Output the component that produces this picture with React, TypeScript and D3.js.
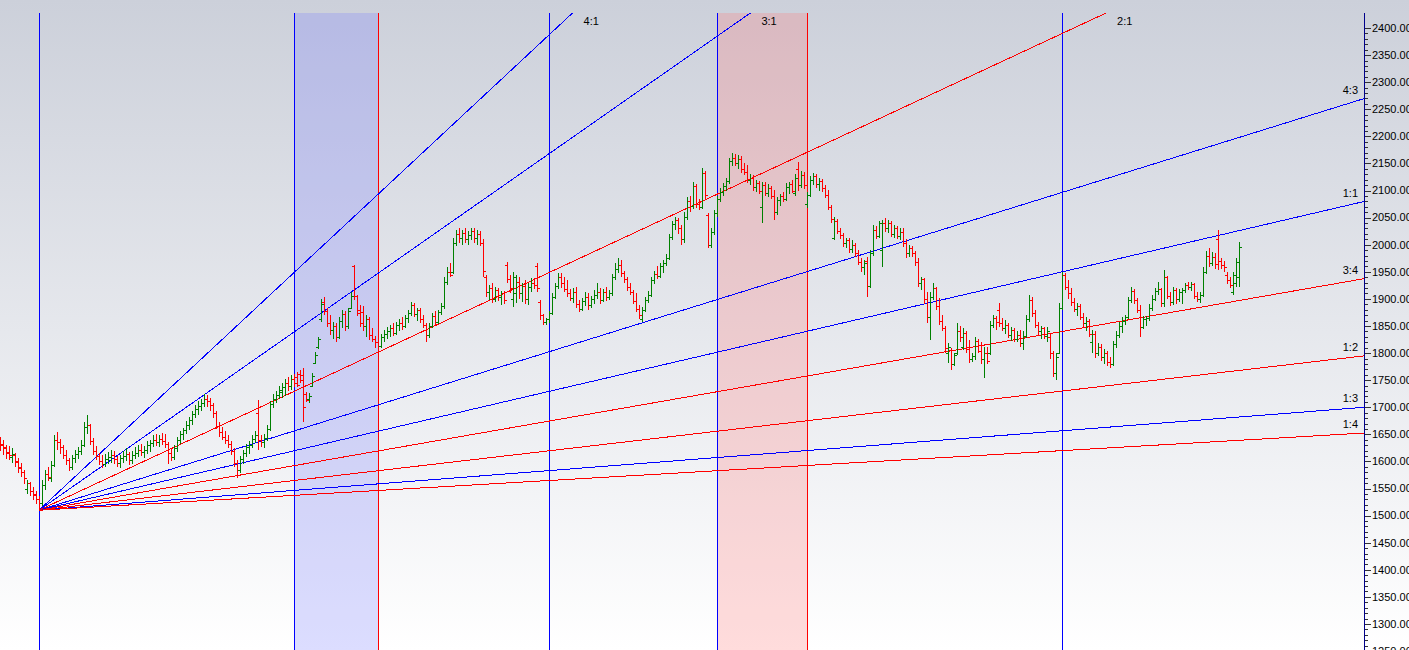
import * as d3 from "d3";

const W = 1409;
const H = 650;
const plotTop = 13;
const axisX = 1364;

// daily bars, [open, high, low, close]
const barsLead = [
  [1640, 1646, 1620, 1630], [1632, 1640, 1612, 1625], [1626, 1630, 1604, 1617], [1616, 1628, 1602, 1612],
  [1608, 1624, 1598, 1614], [1612, 1616, 1590, 1599], [1600, 1606, 1578, 1588], [1590, 1598, 1572, 1580],
  [1580, 1584, 1558, 1569], [1550, 1566, 1540, 1560], [1560, 1562, 1536, 1546], [1546, 1552, 1528, 1540],
  [1538, 1545, 1522, 1530], [1530, 1536, 1510, 1524],
];

const barsBase = [
  [1524, 1566, 1518, 1556], [1556, 1584, 1548, 1576], [1576, 1590, 1564, 1572], [1570, 1600, 1562, 1594],
  [1594, 1648, 1590, 1640], [1640, 1655, 1622, 1636], [1636, 1642, 1614, 1626], [1626, 1630, 1604, 1612],
  [1612, 1622, 1594, 1602], [1602, 1606, 1582, 1590], [1590, 1612, 1584, 1606], [1606, 1622, 1598, 1614],
  [1614, 1626, 1604, 1620], [1620, 1640, 1612, 1630], [1630, 1672, 1626, 1664], [1664, 1686, 1650, 1668],
  [1668, 1670, 1630, 1638], [1638, 1644, 1612, 1620], [1620, 1628, 1602, 1610], [1610, 1616, 1594, 1600],
  [1600, 1612, 1588, 1596], [1596, 1614, 1590, 1604], [1604, 1618, 1596, 1608], [1608, 1622, 1598, 1612],
  [1612, 1620, 1596, 1604], [1604, 1610, 1590, 1598], [1598, 1612, 1588, 1606], [1606, 1620, 1598, 1610],
  [1610, 1624, 1600, 1614], [1614, 1618, 1594, 1602], [1602, 1620, 1596, 1612], [1612, 1626, 1604, 1616],
  [1616, 1630, 1608, 1622], [1622, 1632, 1610, 1618], [1618, 1628, 1606, 1622], [1622, 1638, 1614, 1630],
  [1630, 1640, 1618, 1634], [1634, 1648, 1626, 1640], [1640, 1650, 1628, 1636], [1636, 1648, 1626, 1642],
  [1642, 1652, 1630, 1638], [1638, 1650, 1624, 1632], [1632, 1636, 1596, 1616], [1616, 1624, 1600, 1608],
  [1608, 1630, 1602, 1624], [1624, 1646, 1618, 1640], [1640, 1656, 1632, 1650],
];

const barsBreakout = [
  [1650, 1662, 1640, 1658], [1658, 1674, 1650, 1668], [1668, 1682, 1658, 1676], [1676, 1694, 1668, 1688],
  [1688, 1704, 1680, 1696], [1696, 1712, 1686, 1702], [1702, 1716, 1694, 1708], [1708, 1724, 1700, 1716],
  [1716, 1722, 1700, 1712], [1712, 1718, 1694, 1704], [1704, 1708, 1680, 1690], [1690, 1694, 1660, 1666],
  [1666, 1672, 1646, 1654], [1654, 1664, 1640, 1646], [1646, 1656, 1632, 1640], [1640, 1648, 1624, 1632],
  [1632, 1638, 1612, 1620], [1620, 1624, 1590, 1598], [1598, 1602, 1569, 1584], [1584, 1610, 1578, 1604],
  [1604, 1622, 1596, 1616], [1616, 1632, 1608, 1626], [1626, 1638, 1614, 1630], [1630, 1648, 1624, 1642],
  [1642, 1656, 1634, 1648], [1690, 1713, 1621, 1640], [1640, 1648, 1626, 1636], [1636, 1650, 1624, 1644],
  [1644, 1668, 1638, 1660], [1660, 1712, 1656, 1706], [1706, 1724, 1698, 1716], [1716, 1730, 1708, 1722],
  [1722, 1740, 1716, 1732], [1728, 1745, 1718, 1738], [1738, 1752, 1720, 1744], [1744, 1756, 1730, 1740],
  [1740, 1760, 1732, 1752], [1752, 1762, 1738, 1745], [1755, 1765, 1737, 1742], [1762, 1769, 1745, 1750],
  [1760, 1772, 1673, 1700], [1724, 1728, 1710, 1714], [1716, 1726, 1708, 1720], [1740, 1763, 1737, 1758],
  [1782, 1802, 1780, 1796], [1812, 1830, 1808, 1826], [1862, 1900, 1858, 1890], [1895, 1903, 1870, 1878],
];

const barsPlateau = [
  [1878, 1884, 1848, 1856], [1856, 1870, 1834, 1842], [1842, 1858, 1826, 1850], [1850, 1856, 1820, 1830],
  [1830, 1866, 1826, 1860], [1860, 1880, 1846, 1872], [1872, 1878, 1840, 1850], [1850, 1884, 1844, 1878],
  [1884, 1913, 1882, 1906], [1960, 1963, 1898, 1905], [1905, 1907, 1868, 1874], [1880, 1889, 1848, 1856],
  [1876, 1886, 1840, 1850], [1850, 1870, 1830, 1862], [1862, 1866, 1824, 1834], [1834, 1846, 1820, 1826],
  [1826, 1832, 1810, 1820], [1820, 1830, 1809, 1814], [1814, 1836, 1810, 1830], [1830, 1842, 1820, 1836],
  [1836, 1848, 1826, 1840], [1840, 1852, 1830, 1846], [1846, 1856, 1832, 1838], [1838, 1858, 1834, 1852],
  [1852, 1862, 1840, 1856], [1856, 1866, 1842, 1850], [1850, 1870, 1846, 1864], [1864, 1880, 1856, 1874],
  [1874, 1894, 1868, 1888], [1888, 1892, 1866, 1872], [1872, 1884, 1860, 1880], [1880, 1884, 1856, 1862],
  [1862, 1870, 1846, 1852], [1852, 1856, 1820, 1834], [1834, 1856, 1828, 1850], [1850, 1874, 1846, 1868],
  [1868, 1878, 1852, 1858], [1858, 1880, 1854, 1876], [1876, 1892, 1870, 1886], [1886, 1940, 1882, 1932],
  [1932, 1958, 1926, 1950], [1950, 1966, 1940, 1944], [1950, 2012, 1946, 2004], [2004, 2027, 1998, 2020],
  [2020, 2030, 2004, 2012], [2012, 2028, 2000, 2022], [2022, 2030, 2004, 2010], [2010, 2026, 2000, 2018],
  [2018, 2031, 2008, 2026], [2026, 2030, 2004, 2012], [2012, 2028, 2000, 2020], [2020, 2026, 1998, 2004],
];

const barsRange = [
  [2004, 2010, 1940, 1952], [1940, 1944, 1903, 1912], [1912, 1926, 1898, 1920], [1920, 1929, 1892, 1900],
  [1900, 1922, 1894, 1916], [1916, 1920, 1896, 1904], [1904, 1914, 1889, 1910], [1910, 1914, 1890, 1898],
  [1962, 1968, 1929, 1936], [1936, 1944, 1910, 1920], [1900, 1950, 1885, 1940], [1910, 1944, 1892, 1932],
  [1932, 1940, 1900, 1910], [1910, 1930, 1895, 1924], [1924, 1935, 1890, 1900], [1900, 1930, 1888, 1922],
  [1922, 1938, 1912, 1930], [1930, 1938, 1918, 1926], [1960, 1966, 1912, 1920], [1894, 1898, 1861, 1870],
  [1870, 1872, 1852, 1858], [1858, 1865, 1852, 1862], [1862, 1878, 1856, 1874], [1874, 1911, 1870, 1904],
  [1904, 1930, 1900, 1924], [1924, 1948, 1918, 1940], [1940, 1948, 1920, 1930], [1930, 1940, 1912, 1918],
  [1918, 1935, 1904, 1910], [1910, 1918, 1896, 1902], [1902, 1920, 1892, 1912], [1912, 1922, 1884, 1890],
  [1890, 1898, 1876, 1882], [1882, 1902, 1878, 1896], [1896, 1912, 1886, 1904], [1904, 1910, 1880, 1888],
  [1888, 1906, 1884, 1900], [1900, 1916, 1890, 1908], [1908, 1929, 1900, 1912], [1912, 1920, 1890, 1898],
  [1898, 1918, 1894, 1912], [1912, 1922, 1896, 1904], [1904, 1916, 1898, 1910], [1910, 1946, 1906, 1940],
  [1940, 1966, 1934, 1956], [1956, 1976, 1948, 1962], [1962, 1972, 1940, 1948], [1948, 1952, 1930, 1936],
  [1936, 1940, 1914, 1922], [1922, 1930, 1907, 1912], [1912, 1916, 1890, 1896], [1896, 1911, 1876, 1882],
  [1882, 1888, 1862, 1870], [1862, 1885, 1857, 1880],
];

const barsTop = [
  [1880, 1904, 1876, 1898], [1898, 1914, 1892, 1908], [1908, 1940, 1904, 1934], [1934, 1952, 1928, 1946],
  [1946, 1960, 1936, 1942], [1942, 1966, 1938, 1960], [1960, 1972, 1948, 1966], [1966, 1982, 1960, 1976],
  [1976, 2020, 1972, 2014], [2014, 2044, 2008, 2038], [2038, 2051, 2028, 2046], [2046, 2050, 2020, 2030],
  [2030, 2036, 2000, 2010], [2010, 2060, 2004, 2052], [2052, 2088, 2046, 2080], [2080, 2090, 2060, 2072],
  [2072, 2116, 2066, 2108], [2108, 2112, 2068, 2076], [2076, 2084, 2064, 2070], [2070, 2142, 2066, 2132],
  [2132, 2136, 2084, 2092], [2055, 2058, 1994, 2000], [2000, 2030, 1994, 2024], [2024, 2064, 2018, 2058],
  [2058, 2090, 2052, 2084], [2084, 2104, 2078, 2098], [2098, 2114, 2090, 2108], [2108, 2124, 2100, 2118],
  [2118, 2160, 2112, 2154], [2154, 2169, 2146, 2160], [2160, 2167, 2146, 2150], [2150, 2166, 2140, 2158],
  [2158, 2164, 2132, 2140], [2140, 2150, 2128, 2134], [2134, 2147, 2114, 2120], [2120, 2130, 2110, 2124],
  [2124, 2128, 2100, 2106], [2106, 2120, 2097, 2114], [2114, 2118, 2094, 2100], [2070, 2116, 2040, 2110],
  [2110, 2116, 2090, 2096], [2096, 2112, 2088, 2104], [2104, 2108, 2084, 2090], [2090, 2101, 2046, 2060],
  [2060, 2088, 2055, 2082], [2082, 2094, 2072, 2090], [2090, 2098, 2078, 2084], [2084, 2114, 2080, 2106],
  [2106, 2116, 2094, 2112],
];

const barsSlide = [
  [2112, 2120, 2096, 2100], [2096, 2130, 2090, 2124], [2140, 2153, 2100, 2110], [2110, 2136, 2104, 2128],
  [2128, 2134, 2102, 2110], [2076, 2097, 2067, 2092], [2092, 2126, 2088, 2120], [2120, 2132, 2110, 2126],
  [2126, 2130, 2104, 2112], [2112, 2124, 2100, 2118], [2118, 2122, 2097, 2104], [2104, 2110, 2086, 2092],
  [2092, 2101, 2064, 2070], [2070, 2074, 2040, 2048], [2012, 2052, 2009, 2044], [2044, 2048, 2020, 2026],
  [2026, 2030, 2010, 2018], [2018, 2022, 1996, 2004], [2004, 2012, 1994, 2008], [2008, 2012, 1984, 1992],
  [1992, 2008, 1984, 2000], [2000, 2004, 1978, 1984], [1984, 1990, 1962, 1968], [1968, 1975, 1950, 1958],
  [1958, 1972, 1944, 1966], [1970, 1977, 1903, 1924], [1924, 1990, 1920, 1984], [1984, 2036, 1980, 2028],
  [2028, 2034, 2010, 2016], [2016, 2044, 2012, 2040], [1990, 2046, 1958, 2040], [2040, 2050, 2024, 2030],
  [2030, 2046, 2022, 2040], [2040, 2044, 2014, 2020], [2020, 2036, 2012, 2030], [2030, 2034, 2010, 2016],
  [2016, 2030, 2008, 2024], [2024, 2031, 1996, 2004], [2004, 2010, 1975, 1984], [1984, 2000, 1978, 1994],
  [1994, 1998, 1978, 1984], [1984, 1988, 1960, 1968], [1968, 1975, 1922, 1930], [1930, 1940, 1916, 1936],
  [1936, 1938, 1890, 1900], [1900, 1913, 1856, 1866], [1866, 1913, 1824, 1904], [1904, 1929, 1898, 1920],
  [1920, 1922, 1880, 1886], [1886, 1902, 1852, 1860],
];

const barsBasin = [
  [1860, 1870, 1840, 1846], [1846, 1850, 1800, 1810], [1800, 1818, 1782, 1812], [1806, 1810, 1769, 1780],
  [1780, 1800, 1776, 1796], [1800, 1856, 1796, 1840], [1840, 1850, 1820, 1830], [1812, 1846, 1806, 1838],
  [1838, 1840, 1800, 1808], [1808, 1824, 1782, 1790], [1790, 1800, 1784, 1794], [1794, 1830, 1788, 1822],
  [1822, 1826, 1800, 1804], [1804, 1820, 1780, 1790], [1790, 1812, 1754, 1800], [1800, 1812, 1780, 1786],
  [1800, 1860, 1796, 1852], [1852, 1870, 1846, 1864], [1864, 1868, 1843, 1858], [1880, 1892, 1848, 1856],
  [1856, 1864, 1840, 1846], [1846, 1861, 1836, 1852], [1852, 1856, 1828, 1834], [1834, 1848, 1822, 1842],
  [1842, 1846, 1820, 1826], [1826, 1840, 1820, 1834], [1834, 1843, 1812, 1818], [1818, 1840, 1806, 1832],
  [1832, 1870, 1828, 1862], [1862, 1907, 1858, 1898], [1898, 1903, 1866, 1874], [1874, 1880, 1846, 1852],
  [1852, 1858, 1833, 1840], [1840, 1850, 1826, 1846], [1846, 1848, 1826, 1832], [1832, 1848, 1820, 1840],
  [1830, 1836, 1790, 1800], [1800, 1804, 1756, 1764], [1764, 1800, 1750, 1792], [1800, 1892, 1798, 1884],
  [1884, 1950, 1880, 1944], [1944, 1948, 1916, 1922], [1922, 1935, 1900, 1910], [1910, 1920, 1886, 1894],
  [1894, 1902, 1876, 1882], [1882, 1892, 1868, 1886], [1886, 1890, 1861, 1866], [1866, 1874, 1848, 1856],
  [1856, 1866, 1840, 1860], [1860, 1862, 1830, 1836],
];

const barsRecovery = [
  [1820, 1843, 1800, 1836], [1836, 1840, 1791, 1800], [1800, 1818, 1794, 1812], [1812, 1816, 1786, 1792],
  [1792, 1808, 1780, 1800], [1800, 1804, 1776, 1784], [1784, 1792, 1773, 1780], [1780, 1822, 1776, 1816],
  [1816, 1840, 1810, 1834], [1834, 1858, 1828, 1850], [1850, 1866, 1838, 1860], [1860, 1870, 1852, 1866],
  [1866, 1904, 1862, 1898], [1898, 1922, 1892, 1914], [1914, 1918, 1890, 1898], [1898, 1902, 1874, 1880],
  [1880, 1889, 1830, 1848], [1848, 1868, 1844, 1862], [1862, 1868, 1850, 1864], [1864, 1890, 1860, 1884],
  [1884, 1907, 1878, 1900], [1900, 1920, 1896, 1914], [1914, 1932, 1908, 1918], [1918, 1920, 1885, 1892],
  [1892, 1953, 1885, 1940], [1940, 1942, 1900, 1906], [1906, 1912, 1886, 1894], [1894, 1922, 1888, 1916],
  [1916, 1920, 1890, 1900], [1900, 1918, 1894, 1912], [1912, 1920, 1890, 1916], [1916, 1930, 1910, 1926],
  [1926, 1931, 1916, 1922], [1922, 1932, 1914, 1928], [1928, 1930, 1900, 1906], [1906, 1913, 1894, 1900],
  [1900, 1912, 1892, 1908], [1908, 1958, 1904, 1950], [1950, 1988, 1946, 1980], [1980, 1994, 1958, 1966],
  [1966, 1986, 1960, 1978], [1978, 1984, 1956, 1964], [2010, 2027, 1953, 1970], [1970, 1976, 1956, 1962],
  [1962, 1970, 1950, 1958], [1944, 1950, 1928, 1934], [1934, 1940, 1920, 1926], [1912, 1950, 1907, 1944],
  [1930, 1975, 1922, 1968], [1940, 2005, 1922, 1996],
];

const bars = [
  ...barsLead, ...barsBase, ...barsBreakout, ...barsPlateau, ...barsRange,
  ...barsTop, ...barsSlide, ...barsBasin, ...barsRecovery,
];

// Gann fan from the swing low
const pivotIndex = 13;
const pivotPrice = 1510;
const fanUnit = 1.29; // price per bar for the 1:1 angle
const fanLabels = ["4:1", "3:1", "2:1", "4:3", "1:1", "3:4", "1:2", "1:3", "1:4"];
const fanRatios = [4, 3, 2, 4 / 3, 1, 3 / 4, 1 / 2, 1 / 3, 1 / 4];
const fanColors = ["#0000ff", "#0000ff", "#ff0000", "#0000ff", "#0000ff", "#ff0000", "#ff0000", "#0000ff", "#ff0000"];

// time cycles, bars counted from the pivot
const blueCycles = [0, 85, 170, 226, 341];
const redCycles = [113, 256];
const cycleBands = [
  { from: 85, to: 113, fill: "rgb(118,122,255)" },
  { from: 226, to: 256, fill: "rgb(255,118,118)" },
];

const priceMin = 1250;
const priceMax = 2400;

export default function App() {
  const x = d3.scaleLinear().domain([0, bars.length - 1]).range([0, (bars.length - 1) * 3]);
  const y = d3.scaleLinear().domain([1300, 2400]).range([624, 28]);
  const fmt = d3.format(".2f");

  const px = x(pivotIndex);
  const py = y(pivotPrice);
  const idxEnd = x.invert(axisX);
  const topPrice = y.invert(plotTop);

  const fans = fanRatios.map((r, k) => {
    const slope = r * fanUnit;
    const endPrice = pivotPrice + slope * (idxEnd - pivotIndex);
    let x2 = axisX;
    let y2 = y(endPrice);
    let atTop = false;
    if (y2 < plotTop) {
      x2 = x(pivotIndex + (topPrice - pivotPrice) / slope);
      y2 = plotTop;
      atTop = true;
    }
    return { label: fanLabels[k], color: fanColors[k], x2, y2, atTop };
  });

  const majorTicks = d3.range(priceMin, priceMax + 1, 50);
  const minorTicks = d3.range(priceMin, priceMax + 1, 10).filter((v) => v % 50 !== 0);

  return (
    <svg width={W} height={H} style={{ position: "absolute", left: 0, top: 0, display: "block" }}
      fontFamily="Arial, 'Liberation Sans', sans-serif">
      <defs>
        <linearGradient id="bg" x1="0" y1="0" x2="0" y2="1">
          <stop offset="0" stopColor="#ccd0da" />
          <stop offset="1" stopColor="#ffffff" />
        </linearGradient>
        <clipPath id="plot">
          <rect x={0} y={plotTop} width={axisX} height={H - plotTop} />
        </clipPath>
      </defs>
      <rect width={W} height={H} fill="url(#bg)" />

      <g clipPath="url(#plot)">
        {cycleBands.map((b, i) => (
          <rect key={i} x={x(pivotIndex + b.from)} y={plotTop} width={x(pivotIndex + b.to) - x(pivotIndex + b.from)}
            height={H - plotTop} fill={b.fill} fillOpacity={0.26} />
        ))}
        {blueCycles.map((c) => (
          <line key={"b" + c} x1={x(pivotIndex + c) + 0.5} x2={x(pivotIndex + c) + 0.5} y1={plotTop} y2={H}
            stroke="#0000ff" strokeWidth={1} shapeRendering="crispEdges" />
        ))}
        {redCycles.map((c) => (
          <line key={"r" + c} x1={x(pivotIndex + c) + 0.5} x2={x(pivotIndex + c) + 0.5} y1={plotTop} y2={H}
            stroke="#ff0000" strokeWidth={1} shapeRendering="crispEdges" />
        ))}
        {fans.map((f) => (
          <line key={f.label} x1={px} y1={py} x2={f.x2} y2={f.y2} stroke={f.color} strokeWidth={1}
            shapeRendering="crispEdges" />
        ))}
        <g shapeRendering="crispEdges" strokeWidth={1}>
          {bars.map(([o, h, l, c], i) => {
            const bx = x(i) + 0.5;
            const col = c >= o ? "#008000" : "#ff0000";
            const yo = Math.round(y(o)) + 0.5;
            const yc = Math.round(y(c)) + 0.5;
            return (
              <g key={i} stroke={col}>
                <line x1={bx} x2={bx} y1={y(h)} y2={y(l)} />
                <line x1={bx - 2.5} x2={bx} y1={yo} y2={yo} />
                <line x1={bx} x2={bx + 2.5} y1={yc} y2={yc} />
              </g>
            );
          })}
        </g>
      </g>

      {fans.map((f) =>
        f.atTop ? (
          <text key={"t" + f.label} x={f.x2 + 11} y={25} fontSize={11} fill="#000">{f.label}</text>
        ) : (
          <text key={"t" + f.label} x={axisX - 6} y={f.y2 - 5} fontSize={11} fill="#000" textAnchor="end">{f.label}</text>
        )
      )}

      <g shapeRendering="crispEdges">
        <line x1={axisX + 0.5} x2={axisX + 0.5} y1={plotTop} y2={H} stroke="#00008b" strokeWidth={1} />
        {minorTicks.map((v) => (
          <line key={"m" + v} x1={axisX + 1} x2={axisX + 4} y1={Math.round(y(v)) + 0.5} y2={Math.round(y(v)) + 0.5}
            stroke="#333" />
        ))}
        {majorTicks.map((v) => (
          <line key={"M" + v} x1={axisX + 1} x2={axisX + 7} y1={Math.round(y(v)) + 0.5} y2={Math.round(y(v)) + 0.5}
            stroke="#333" />
        ))}
      </g>
      {majorTicks.map((v) => (
        <text key={"l" + v} x={axisX + 8} y={y(v)} dy="0.35em" fontSize={11} fill="#000">{fmt(v)}</text>
      ))}
    </svg>
  );
}
